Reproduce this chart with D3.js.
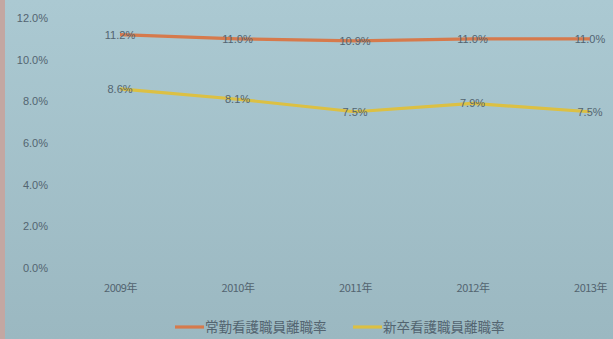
<!DOCTYPE html>
<html><head><meta charset="utf-8">
<script src="https://cdn.jsdelivr.net/npm/d3@7"></script>
<style>body{margin:0;background:#a3c1ca;}svg{display:block;}</style>
</head><body>
<svg id="chart" width="613" height="339"></svg>
<script>
const years = ["2009年","2010年","2011年","2012年","2013年"];
const fullTime = [11.2, 11.0, 10.9, 11.0, 11.0];
const newGrad = [8.6, 8.1, 7.5, 7.9, 7.5];
const yTicks = [0, 2, 4, 6, 8, 10, 12];
const seriesNames = ["常勤看護職員離職率", "新卒看護職員離職率"];
const seriesColors = ["#d67a4c", "#dcc043"];

const svg = d3.select("#chart");
const W = 613, H = 339;
const defs = svg.append("defs");
const g = defs.append("linearGradient").attr("id","bg").attr("x1",0).attr("y1",0).attr("x2",0).attr("y2",1);
g.append("stop").attr("offset","0%").attr("stop-color","#abc9d2");
g.append("stop").attr("offset","100%").attr("stop-color","#9bb8c1");
svg.append("rect").attr("width",W).attr("height",H).attr("fill","url(#bg)");
svg.append("rect").attr("width",5).attr("height",H).attr("fill","#c3a7a2");

const x = d3.scalePoint().domain(years).range([120, 590]);
const y = d3.scaleLinear().domain([0, 12]).range([268, 18]);

const textColor = "#536470";
const font = "'Liberation Sans Narrow', 'Liberation Sans', Arial, sans-serif";

// y axis
const yAxis = d3.axisLeft(y).tickValues(yTicks).tickFormat(d => d.toFixed(1) + "%").tickSize(0).tickPadding(0);
const ya = svg.append("g").attr("transform","translate(48,0)").call(yAxis);
ya.select(".domain").remove();
ya.selectAll("text").attr("fill",textColor).style("font-family",font).style("font-size","11px");

// x axis
const xAxis = d3.axisBottom(x).tickSize(0).tickPadding(0);
const xa = svg.append("g").attr("transform","translate(0,284)").call(xAxis);
xa.select(".domain").remove();
xa.selectAll("text").attr("fill",textColor).style("font-family","'Noto Sans CJK JP', sans-serif").style("font-size","11px").attr("letter-spacing","-0.5px");

const data = [fullTime, newGrad];
const line = d3.line().x((d,i) => x(years[i])).y(d => y(d));
data.forEach((s, k) => {
  svg.append("path").datum(s).attr("d", line).attr("fill","none")
    .attr("stroke", seriesColors[k]).attr("stroke-width", 3.2).attr("stroke-linejoin","round");
  svg.append("g").selectAll("text").data(s).join("text")
    .attr("x", (d,i) => x(years[i]))
    .attr("y", d => y(d) + 4)
    .attr("text-anchor","middle")
    .attr("fill", textColor)
    .style("font-family", font).style("font-size","11px")
    .text(d => d.toFixed(1) + "%");
});

// legend
const legendX = [175, 353];
seriesNames.forEach((name, k) => {
  const lg = svg.append("g").attr("transform", `translate(${legendX[k]},327)`);
  lg.append("line").attr("x1",0).attr("x2",29).attr("y1",0).attr("y2",0)
    .attr("stroke", seriesColors[k]).attr("stroke-width",3.2);
  lg.append("text").attr("x",30).attr("y",4.5).attr("fill",textColor)
    .style("font-family","'Noto Sans CJK JP', sans-serif").style("font-size","13.5px")
    .text(name);
});
</script>
</body></html>
